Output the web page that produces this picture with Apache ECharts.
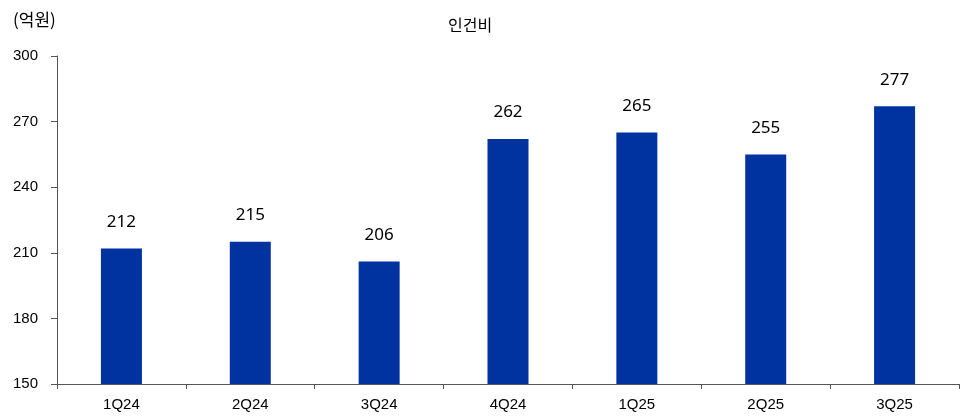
<!DOCTYPE html>
<html><head><meta charset="utf-8">
<script src="https://cdn.jsdelivr.net/npm/echarts@6/dist/echarts.min.js"></script>
<style>html,body{margin:0;padding:0;background:#fff}#c{width:968px;height:417px}</style>
</head><body><div id="c"></div>
<script>
const categories = ['1Q24','2Q24','3Q24','4Q24','1Q25','2Q25','3Q25'];
const values = [212,215,206,262,265,255,277];
const yTicks = [150,180,210,240,270,300];
const title = '인건비';
const unit = '(억원)';

const chart = echarts.init(document.getElementById('c'));
chart.setOption({
  animation:false,
  graphic:[
    {type:'text',left:13,top:11,style:{text:unit,font:'17px "Noto Sans CJK KR"',fill:'#000'}},
    {type:'text',left:448,top:17,style:{text:title,font:'16px "Noto Sans CJK KR"',fill:'#000'}}
  ],
  grid:{left:57,right:9,top:56,bottom:33,containLabel:false},
  xAxis:{type:'category',data:categories,
    axisLine:{lineStyle:{color:'#555',width:1}},
    axisTick:{show:true,alignWithLabel:false,length:5,lineStyle:{color:'#555'}},
    axisLabel:{color:'#000',fontSize:15,fontFamily:'"Liberation Sans Narrow","Liberation Sans",sans-serif',margin:13}},
  yAxis:{type:'value',min:yTicks[0],max:yTicks[yTicks.length-1],interval:30,
    axisLine:{show:true,lineStyle:{color:'#555',width:1}},
    axisTick:{show:true,length:6,lineStyle:{color:'#555'}},
    splitLine:{show:false},
    axisLabel:{color:'#000',fontSize:15,fontFamily:'"Liberation Sans Narrow","Liberation Sans",sans-serif',margin:19}},
  series:[{type:'bar',data:values,barWidth:41,
    itemStyle:{color:'#0033A0'},
    label:{show:true,position:'top',distance:18,color:'#000',fontSize:17,fontFamily:'"Noto Sans","DejaVu Sans",sans-serif'}}]
});
</script></body></html>
